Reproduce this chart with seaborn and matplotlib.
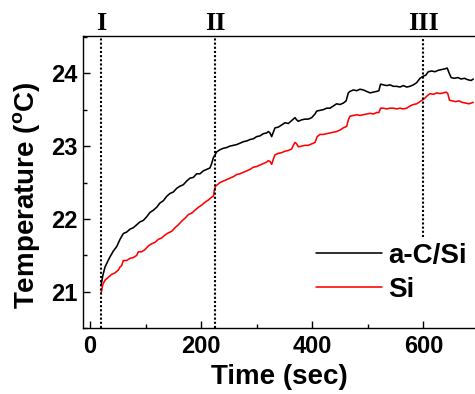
import numpy as np
import pandas as pd
import matplotlib
matplotlib.use("Agg")
import matplotlib.pyplot as plt
import matplotlib.transforms as mtransforms
import seaborn as sns

# ---- data ----
t_black = [20, 23, 27, 32, 36, 42, 48, 54, 60, 66, 72, 78, 84, 90, 96, 102, 108, 114,
           120, 126, 132, 138, 144, 150, 156, 162, 168, 174, 180, 186, 192, 198, 204,
           210, 216, 219, 222, 225, 228, 234, 240, 246, 252, 258, 264, 270, 276, 282,
           288, 294, 300, 306, 312, 318, 321, 324, 327, 330, 333, 339, 345, 351, 357,
           363, 369, 372, 375, 381, 387, 393, 399, 405, 408, 414, 420, 426, 432, 438,
           444, 450, 456, 461, 465, 468, 474, 480, 486, 492, 498, 504, 510, 516, 520,
           523, 528, 534, 540, 546, 552, 558, 564, 570, 576, 582, 588, 594, 600, 604,
           609, 615, 621, 627, 633, 639, 643, 646, 650, 656, 662, 668, 674, 680, 686, 690]
temp_black = [21.09, 21.22, 21.34, 21.42, 21.48, 21.56, 21.62, 21.72, 21.80, 21.82, 21.86,
              21.88, 21.92, 21.96, 21.98, 22.03, 22.09, 22.12, 22.16, 22.22, 22.25, 22.31,
              22.35, 22.37, 22.42, 22.45, 22.47, 22.52, 22.56, 22.57, 22.62, 22.62, 22.66,
              22.68, 22.70, 22.76, 22.84, 22.88, 22.92, 22.95, 22.97, 22.98, 23.00, 23.01,
              23.02, 23.04, 23.06, 23.07, 23.09, 23.10, 23.13, 23.14, 23.17, 23.18, 23.20,
              23.18, 23.13, 23.19, 23.25, 23.26, 23.29, 23.32, 23.31, 23.35, 23.39, 23.36,
              23.34, 23.36, 23.37, 23.37, 23.39, 23.44, 23.48, 23.49, 23.50, 23.52, 23.52,
              23.55, 23.58, 23.57, 23.59, 23.62, 23.73, 23.75, 23.77, 23.76, 23.78, 23.77,
              23.75, 23.73, 23.74, 23.75, 23.76, 23.85, 23.84, 23.83, 23.84, 23.82, 23.82,
              23.81, 23.83, 23.81, 23.82, 23.84, 23.87, 23.93, 23.96, 23.97, 24.02, 24.03,
              24.02, 24.04, 24.05, 24.06, 24.07, 24.01, 23.94, 23.93, 23.94, 23.92, 23.93,
              23.91, 23.90, 23.92]

t_red = [20, 23, 27, 33, 39, 45, 51, 54, 57, 60, 66, 72, 78, 84, 87, 93, 99, 105, 111,
         117, 123, 129, 135, 141, 147, 153, 159, 165, 171, 177, 183, 189, 195, 201, 207,
         213, 219, 222, 224, 226, 234, 240, 246, 252, 258, 264, 270, 276, 282, 288, 294,
         300, 306, 312, 318, 321, 324, 327, 330, 333, 339, 345, 351, 357, 363, 366, 369,
         372, 375, 381, 387, 393, 399, 405, 409, 414, 420, 426, 432, 438, 444, 450, 456,
         462, 465, 468, 474, 480, 486, 492, 498, 504, 510, 516, 520, 523, 528, 534, 540,
         546, 552, 558, 564, 570, 576, 582, 588, 594, 600, 603, 607, 612, 618, 624, 630,
         636, 641, 644, 647, 652, 658, 664, 670, 676, 682, 690]
temp_red = [20.98, 21.10, 21.16, 21.20, 21.24, 21.26, 21.30, 21.34, 21.36, 21.43, 21.43,
            21.46, 21.47, 21.50, 21.55, 21.55, 21.58, 21.63, 21.66, 21.68, 21.72, 21.74,
            21.78, 21.81, 21.83, 21.88, 21.92, 21.97, 22.01, 22.06, 22.08, 22.12, 22.16,
            22.19, 22.23, 22.26, 22.30, 22.31, 22.40, 22.45, 22.50, 22.52, 22.54, 22.56,
            22.58, 22.61, 22.62, 22.64, 22.66, 22.68, 22.71, 22.72, 22.74, 22.76, 22.78,
            22.80, 22.79, 22.75, 22.82, 22.88, 22.90, 22.91, 22.93, 22.94, 22.96, 23.01,
            23.05, 23.03, 22.99, 23.00, 23.01, 23.01, 23.03, 23.05, 23.13, 23.16, 23.16,
            23.17, 23.18, 23.19, 23.20, 23.22, 23.25, 23.27, 23.36, 23.41, 23.42, 23.43,
            23.42, 23.43, 23.44, 23.45, 23.44, 23.46, 23.46, 23.52, 23.52, 23.51, 23.52,
            23.52, 23.51, 23.52, 23.51, 23.52, 23.55, 23.57, 23.58, 23.61, 23.64, 23.66,
            23.69, 23.72, 23.71, 23.73, 23.72, 23.73, 23.74, 23.72, 23.63, 23.62, 23.61,
            23.62, 23.60, 23.59, 23.58, 23.60]

marker_times = [20, 225, 600]
marker_labels = ["I", "II", "III"]
series_names = ["a-C/Si", "Si"]
x_ticks = [0, 200, 400, 600]
y_ticks = [21, 22, 23, 24]

df = pd.concat([
    pd.DataFrame({"Time": t_black, "Temp": temp_black, "Sample": series_names[0]}),
    pd.DataFrame({"Time": t_red, "Temp": temp_red, "Sample": series_names[1]}),
], ignore_index=True)

sns.set_style("ticks")
plt.rcParams["font.family"] = ["Liberation Sans", "DejaVu Sans"]
plt.rcParams["mathtext.fontset"] = "custom"
plt.rcParams["mathtext.rm"] = "Liberation Sans:bold"
plt.rcParams["mathtext.bf"] = "Liberation Sans:bold"
plt.rcParams["xtick.direction"] = "in"
plt.rcParams["ytick.direction"] = "in"
for key in ["text.color", "axes.labelcolor", "xtick.color", "ytick.color",
            "axes.edgecolor", "xtick.labelcolor", "ytick.labelcolor"]:
    plt.rcParams[key] = "black"

fig = plt.figure(figsize=(4.75, 3.94), dpi=100)
ax = fig.add_axes([0.1747, 0.1667, 0.8253, 0.7419])

sns.lineplot(data=df, x="Time", y="Temp", hue="Sample",
             palette={"a-C/Si": "black", "Si": "#ff0000"},
             linewidth=1.15, ax=ax, estimator=None, sort=False)

ax.set_xlim(-12.6, 693)
ax.set_ylim(20.5, 24.51)
ax.set_xticks(x_ticks)
ax.set_yticks(y_ticks)
ax.set_xticks([100, 300, 500], minor=True)
ax.set_yticks([20.5, 21.5, 22.5, 23.5, 24.5], minor=True)
ax.tick_params(which="major", length=5, width=1, labelsize=17)
ax.tick_params(which="minor", length=3, width=1)
ax.tick_params(axis="y", which="major", pad=4)
ax.tick_params(axis="x", which="major", pad=5)
for lab in ax.get_xticklabels() + ax.get_yticklabels():
    lab.set_fontweight("bold")

ax.spines["right"].set_visible(False)
for s in ["left", "bottom", "top"]:
    ax.spines[s].set_linewidth(1.0)
    ax.spines[s].set_color("black")

ax.set_xlabel("Time (sec)", fontsize=20, fontweight="bold", labelpad=4)
ax.set_ylabel(r"Temperature ($\mathbf{^o}$C)", fontsize=20, fontweight="bold",
              va="center", ha="center")
ax.yaxis.set_label_coords(-0.145, 0.455)

# vertical dotted markers
ymins = [0.0, 0.0, 0.312]
trans = mtransforms.blended_transform_factory(ax.transData, ax.transAxes)
for xt, lab, ymn in zip(marker_times, marker_labels, ymins):
    ax.axvline(xt, ymin=ymn, ymax=1, color="black", linestyle=(0, (1, 1)), linewidth=1.5)
    ax.text(xt, 1.021, lab, transform=trans, ha="center", va="baseline",
            fontsize=19, fontweight="bold", family=["Liberation Serif", "DejaVu Serif"])

leg = ax.legend(loc="center left", bbox_to_anchor=(0.595, 0.19), frameon=False,
                fontsize=20, handlelength=2.35, handletextpad=0.25, labelspacing=0.3,
                borderaxespad=0, borderpad=0)
for txt in leg.get_texts():
    txt.set_fontweight("bold")

fig.savefig("out.png", dpi=100)
